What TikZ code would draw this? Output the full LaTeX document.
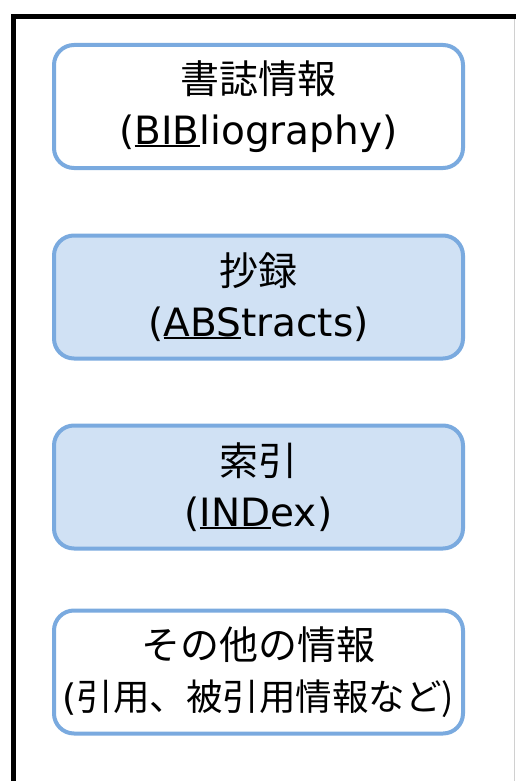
\documentclass[tikz,border=0pt]{standalone}
\usepackage{fontspec}
\setmainfont{DejaVu Sans}
\newfontfamily\jp{Noto Sans CJK JP}
\definecolor{boxline}{RGB}{122,170,223}
\definecolor{boxfill}{RGB}{208,225,244}
\definecolor{edgegray}{RGB}{208,208,208}
\newcommand\myul[1]{\setbox0\hbox{#1}\rlap{\rule[-3pt]{\wd0}{2pt}}\box0}
\begin{document}
\begin{tikzpicture}[x=1pt,y=-1pt,
  infobox/.style={draw=boxline, line width=4pt, rounded corners=20pt,
    minimum width=409pt, minimum height=123pt, align=center,
    font=\fontsize{39}{51}\selectfont, inner sep=0pt},
  filled/.style={fill=boxfill}]
\useasboundingbox (0,0) rectangle (516,781);
\fill[white] (0,0) rectangle (516,781);
\draw[edgegray, line width=1.5pt] (514.5,14) -- (514.5,781);
\draw[black, line width=5pt] (13.5,781) -- (13.5,16.5) -- (516,16.5);
\node[infobox, fill=white] (bib) at (258.5,106.5) {{\jp 書誌情報}\\(\myul{BIB}liography)};
\node[infobox, filled] (abs) at (258.5,297) {{\jp 抄録}\\(\myul{ABS}tracts)};
\node[infobox, filled] (ind) at (258.5,487) {{\jp 索引}\\(\myul{IND}ex)};
\node[infobox, fill=white] (oth) at (258.5,672) {{\jp その他の情報}\\{\fontsize{36.5}{51}\selectfont(\jp 引用、被引用情報など)}};
\end{tikzpicture}
\end{document}
